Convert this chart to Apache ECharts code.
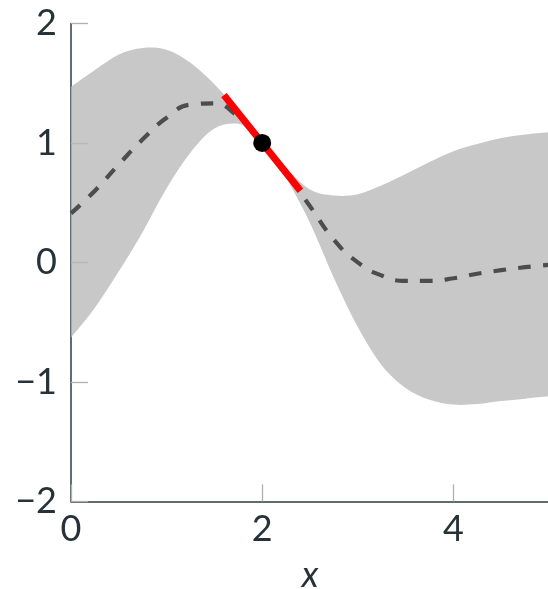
<!DOCTYPE html>
<html>
<head>
<meta charset="utf-8">
<style>
html,body{margin:0;padding:0;background:#fff;}
#chart{width:548px;height:589px;}
</style>
<script src="https://cdn.jsdelivr.net/npm/echarts@6/dist/echarts.min.js"></script>
</head>
<body>
<div id="chart"></div>
<script>
// ---- data ----
const xs     = [0, 0.25, 0.5, 0.75, 1.0, 1.25, 1.5, 1.75, 1.875, 2.0, 2.125, 2.25, 2.5, 2.75, 3.0, 3.25, 3.5, 3.75, 4.0, 4.25, 4.5, 4.75, 5.0];
const meanY  = [0.41, 0.60, 0.82, 1.03, 1.21, 1.32, 1.33, 1.22, 1.12, 1.00, 0.875, 0.75, 0.47, 0.19, 0.00, -0.11, -0.155, -0.155, -0.133, -0.095, -0.065, -0.04, -0.02];
const upperY = [1.47, 1.61, 1.74, 1.795, 1.78, 1.67, 1.49, 1.27, 1.14, 1.00, 0.89, 0.79, 0.61, 0.56, 0.57, 0.645, 0.74, 0.84, 0.93, 0.99, 1.04, 1.07, 1.09];
const lowerY = [-0.63, -0.38, -0.075, 0.255, 0.62, 0.92, 1.12, 1.16, 1.09, 1.00, 0.86, 0.71, 0.33, -0.13, -0.54, -0.86, -1.05, -1.15, -1.19, -1.185, -1.16, -1.14, -1.12];
const tangentX = [1.6, 2.4];
const tangentY = [1.40, 0.60];
const obsX = [2];
const obsY = [1];
const xTicks = [0, 2, 4];
const yTicks = [-2, -1, 0, 1, 2];
const xMax = 5;

const bandData  = xs.map((x, i) => [x, upperY[i], lowerY[i]]);
const meanData  = xs.map((x, i) => [x, meanY[i]]);
const tanData   = tangentX.map((x, i) => [x, tangentY[i]]);
const obsData   = obsX.map((x, i) => [x, obsY[i]]);

const FONT = 'Lato';
const TXT = '#263238';
const fmt = v => (v < 0 ? '\u2212' + Math.abs(v) : String(v));

// Catmull-Rom spline through pixel points -> SVG path commands
function splinePath(pts, start) {
  let d = (start ? 'M' : 'L') + pts[0][0] + ' ' + pts[0][1];
  for (let i = 0; i < pts.length - 1; i++) {
    const p0 = pts[Math.max(i - 1, 0)], p1 = pts[i], p2 = pts[i + 1], p3 = pts[Math.min(i + 2, pts.length - 1)];
    const c1 = [p1[0] + (p2[0] - p0[0]) / 6, p1[1] + (p2[1] - p0[1]) / 6];
    const c2 = [p2[0] - (p3[0] - p1[0]) / 6, p2[1] - (p3[1] - p1[1]) / 6];
    d += ' C' + c1[0] + ' ' + c1[1] + ' ' + c2[0] + ' ' + c2[1] + ' ' + p2[0] + ' ' + p2[1];
  }
  return d;
}

function renderBand(params, api) {
  if (params.dataIndex !== 0) return null;
  const up = xs.map((x, i) => api.coord([x, upperY[i]]));
  const lo = xs.map((x, i) => api.coord([x, lowerY[i]])).reverse();
  const d = splinePath(up, true) + ' ' + splinePath(lo, false) + ' Z';
  return {
    type: 'path',
    shape: {pathData: d},
    style: {fill: 'rgba(184,184,184,0.78)', stroke: null}
  };
}

const chart = echarts.init(document.getElementById('chart'), null, {renderer: 'canvas'});
chart.setOption({
  animation: false,
  grid: {left: 71, top: 23.4, width: 478, height: 478, containLabel: false, outerBoundsMode: 'none'},
  xAxis: {
    type: 'value',
    min: xTicks[0], max: xMax, interval: xTicks[1] - xTicks[0],
    name: 'x', nameLocation: 'middle', nameGap: 56,
    nameTextStyle: {fontFamily: FONT, fontStyle: 'italic', fontSize: 36, color: TXT},
    axisLine: {show: true, onZero: false, lineStyle: {color: '#2e3d42', width: 1.5}},
    axisTick: {show: true, inside: true, length: 17, lineStyle: {color: '#b0b0b0', width: 1.3}},
    axisLabel: {show: true, showMaxLabel: false, margin: 10, fontFamily: FONT, fontSize: 36, color: TXT, formatter: fmt},
    splitLine: {show: false}
  },
  yAxis: {
    type: 'value',
    min: yTicks[0], max: yTicks[yTicks.length - 1], interval: yTicks[1] - yTicks[0],
    axisLine: {show: true, onZero: false, lineStyle: {color: '#2e3d42', width: 1.5}},
    axisTick: {show: true, inside: true, length: 17, lineStyle: {color: '#b0b0b0', width: 1.3}},
    axisLabel: {show: true, margin: 14, fontFamily: FONT, fontSize: 36, color: TXT, formatter: fmt},
    splitLine: {show: false}
  },
  series: [
    {
      type: 'custom', name: 'band', data: bandData,
      encode: {x: 0, y: [1, 2]},
      renderItem: renderBand, z: 2, silent: true, clip: true
    },
    {
      type: 'line', name: 'mean', data: meanData, smooth: 0.5, symbol: 'none',
      lineStyle: {color: '#4d4d4d', width: 4.2, type: [12.5, 12.3]}, z: 3, silent: true
    },
    {
      type: 'line', name: 'tangent', data: tanData, symbol: 'none',
      lineStyle: {color: '#ff0000', width: 7, cap: 'butt'}, z: 4, silent: true
    },
    {
      type: 'scatter', name: 'obs', data: obsData, symbol: 'circle', symbolSize: 18,
      itemStyle: {color: '#000000', opacity: 1}, z: 5, silent: true
    }
  ]
});
</script>
</body>
</html>
